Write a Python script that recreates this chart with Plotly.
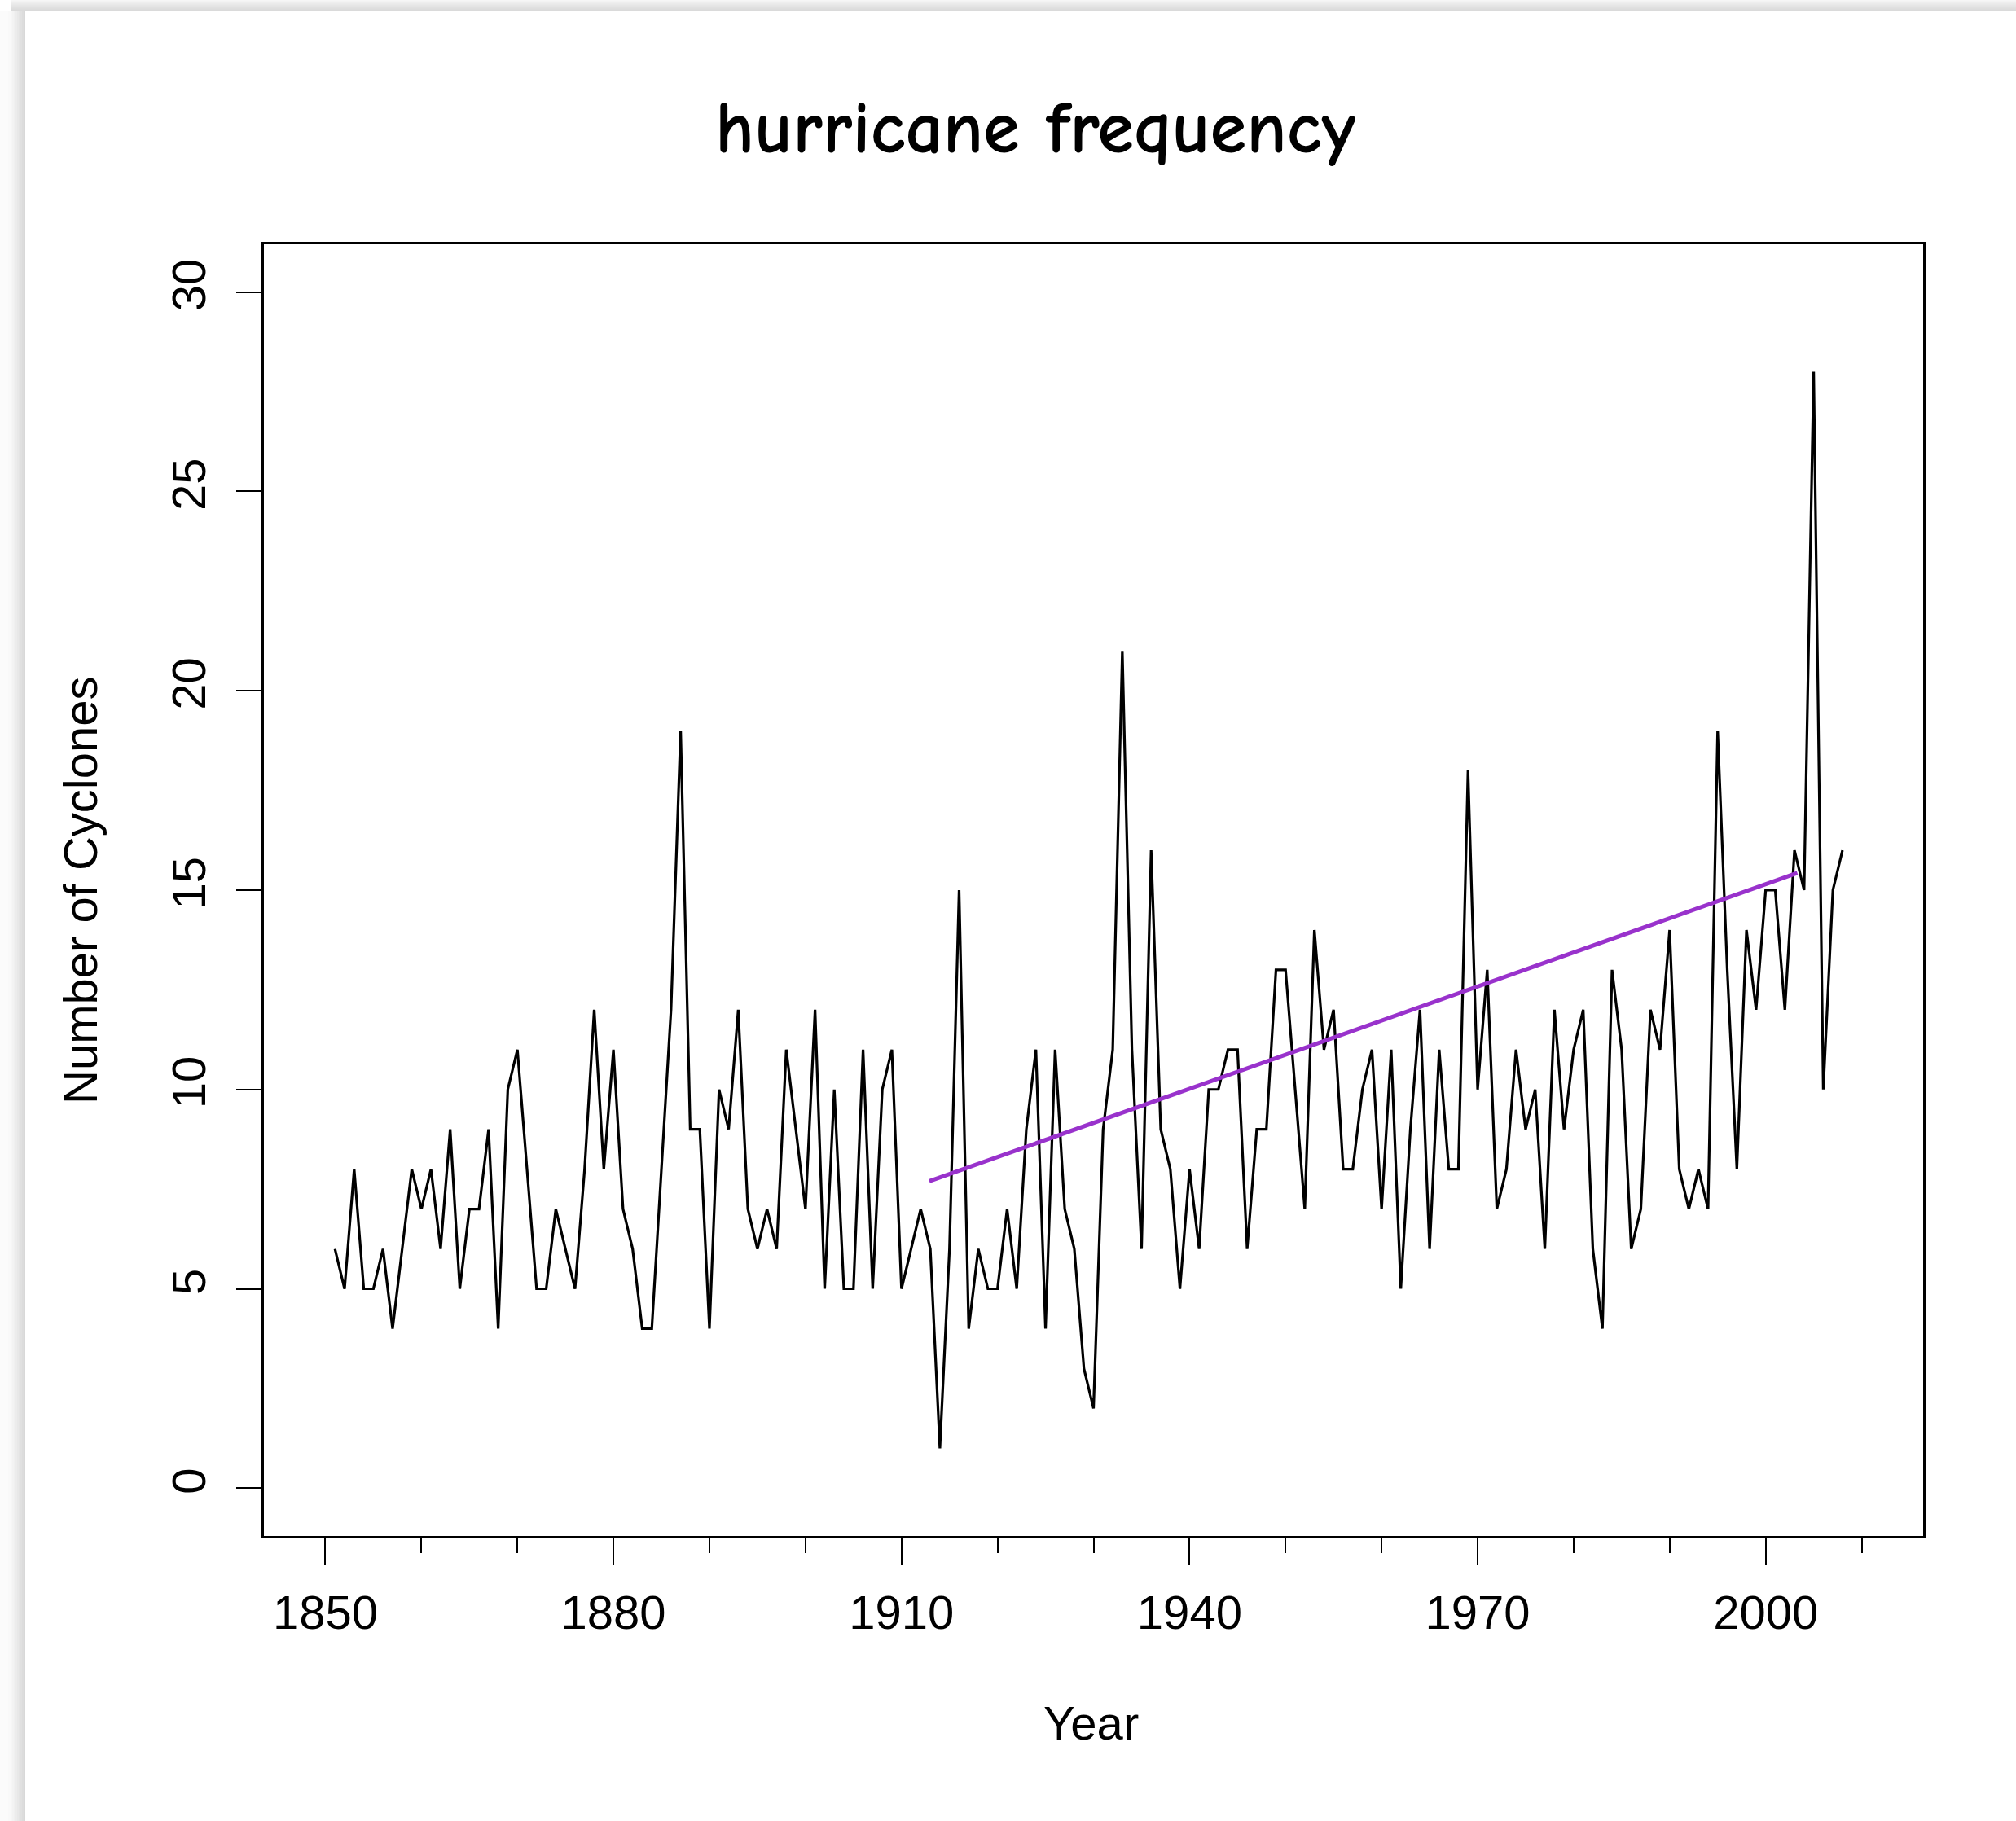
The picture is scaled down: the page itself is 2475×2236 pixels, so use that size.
import plotly.graph_objects as go

# Annual Atlantic tropical cyclone counts, 1851-2008
years = list(range(1851, 2009))
cyclones = (
    [6, 5, 8, 5, 5, 6, 4, 6, 8, 7]          # 1851-1860
    + [8, 6, 9, 5, 7, 7, 9, 4, 10, 11]      # 1861-1870
    + [8, 5, 5, 7, 6, 5, 8, 12, 8, 11]      # 1871-1880
    + [7, 6, 4, 4, 8, 12, 19, 9, 9, 4]      # 1881-1890
    + [10, 9, 12, 7, 6, 7, 6, 11, 9, 7]     # 1891-1900
    + [12, 5, 10, 5, 5, 11, 5, 10, 11, 5]   # 1901-1910
    + [6, 7, 6, 1, 6, 15, 4, 6, 5, 5]       # 1911-1920
    + [7, 5, 9, 11, 4, 11, 7, 6, 3, 2]      # 1921-1930
    + [9, 11, 21, 11, 6, 16, 9, 8, 5, 8]    # 1931-1940
    + [6, 10, 10, 11, 11, 6, 9, 9, 13, 13]  # 1941-1950
    + [10, 7, 14, 11, 12, 8, 8, 10, 11, 7]  # 1951-1960
    + [11, 5, 9, 12, 6, 11, 8, 8, 18, 10]   # 1961-1970
    + [13, 7, 8, 11, 9, 10, 6, 12, 9, 11]   # 1971-1980
    + [12, 6, 4, 13, 11, 6, 7, 12, 11, 14]  # 1981-1990
    + [8, 7, 8, 7, 19, 13, 8, 14, 12, 15]   # 1991-2000
    + [15, 12, 16, 15, 28, 10, 15, 16]      # 2001-2008
)
assert len(cyclones) == len(years)

# Linear trend segment
trend_years = [1912.9, 2003.3]
trend_values = [7.70, 15.43]

x_tick_vals = [1850, 1880, 1910, 1940, 1970, 2000]
x_tick_text = ["1850", "1880", "1910", "1940", "1970", "2000"]
y_tick_vals = [0, 5, 10, 15, 20, 25, 30]
y_tick_text = ["0", "5", "10", "15", "20", "25", "30"]

W, H = 2475, 2236
ML, MR, MT, MB = 324, 114, 300, 350
PW, PH = W - ML - MR, H - MT - MB


def px_x(x):
    return (x - ML) / PW


def px_y(y):
    return 1 - (y - MT) / PH


AXIS_FONT = dict(family="Liberation Sans, Arial, Helvetica, sans-serif", size=58, color="#000000")

fig = go.Figure()
fig.add_trace(go.Scatter(
    x=years, y=cyclones, mode="lines",
    line=dict(color="#000000", width=3.2),
    showlegend=False,
))
fig.add_trace(go.Scatter(
    x=trend_years, y=trend_values, mode="lines",
    line=dict(color="#9932CC", width=5),
    showlegend=False,
))

# soft drop shadow along the top and left edges of the page
shapes = []
top_cols = ["#f6f6f6", "#f3f3f3", "#f0f0f0", "#eeeeee", "#ebebeb", "#e9e9e9",
            "#e6e6e6", "#e4e4e4", "#e2e2e2", "#e0e0e0", "#dedede", "#dcdcdc", "#dadada"]
for i, c in enumerate(top_cols):
    shapes.append(dict(type="rect", xref="paper", yref="paper",
                       x0=px_x(14), x1=px_x(W), y0=px_y(i + 1), y1=px_y(i),
                       fillcolor=c, line=dict(width=0), layer="below"))
left_cols = ["#fbfbfb", "#f9f9f9", "#f6f6f6", "#f3f3f3", "#f0f0f0", "#ececec",
             "#e8e8e8", "#e4e4e4", "#e0e0e0", "#dcdcdc", "#d8d8d8"]
left_edges = [0, 10, 13, 15, 17, 19, 21, 23, 25, 27, 29, 31]
for i, c in enumerate(left_cols):
    shapes.append(dict(type="rect", xref="paper", yref="paper",
                       x0=px_x(left_edges[i]), x1=px_x(left_edges[i + 1]),
                       y0=px_y(H), y1=px_y(13),
                       fillcolor=c, line=dict(width=0), layer="below"))
fig.update_layout(shapes=shapes)

fig.update_layout(
    width=W, height=H,
    margin=dict(l=ML, r=MR, t=MT, b=MB, pad=0),
    paper_bgcolor="#ffffff",
    plot_bgcolor="#ffffff",
    showlegend=False,
    xaxis=dict(
        range=[1843.6, 2016.4],
        tickmode="array", tickvals=x_tick_vals, ticktext=x_tick_text,
        ticks="outside", ticklen=33, tickwidth=2.2, tickcolor="#000000",
        minor=dict(tickmode="linear", tick0=1850, dtick=10, ticks="outside",
                   ticklen=18, tickwidth=2.2, tickcolor="#000000", showgrid=False),
        ticklabelstandoff=8,
        tickfont=AXIS_FONT,
        showline=True, linecolor="#000000", linewidth=3, mirror=True,
        showgrid=False, zeroline=False,
    ),
    yaxis=dict(
        range=[-1.2, 31.2],
        tickmode="array", tickvals=y_tick_vals, ticktext=y_tick_text,
        ticks="outside", ticklen=31, tickwidth=2.2, tickcolor="#000000",
        tickangle=-90,
        ticklabelstandoff=15,
        tickfont=AXIS_FONT,
        showline=True, linecolor="#000000", linewidth=3, mirror=True,
        showgrid=False, zeroline=False,
    ),
    annotations=[
        dict(text="<b>hurricane frequency</b>", xref="paper", yref="paper",
             x=px_x(1271), y=px_y(158), xanchor="center", yanchor="middle",
             showarrow=False,
             font=dict(family="Comic Sans MS, Comic Neue, Noto Sans, sans-serif",
                       size=91, color="#000000")),
        dict(text="Year", xref="paper", yref="paper",
             x=px_x(1339), y=px_y(2115), xanchor="center", yanchor="middle",
             showarrow=False, font=AXIS_FONT),
        dict(text="Number of Cyclones", xref="paper", yref="paper",
             x=px_x(98), y=px_y(1094), xanchor="center", yanchor="middle",
             textangle=-90, showarrow=False, font=AXIS_FONT),
    ],
)

fig.write_html("out.html")
